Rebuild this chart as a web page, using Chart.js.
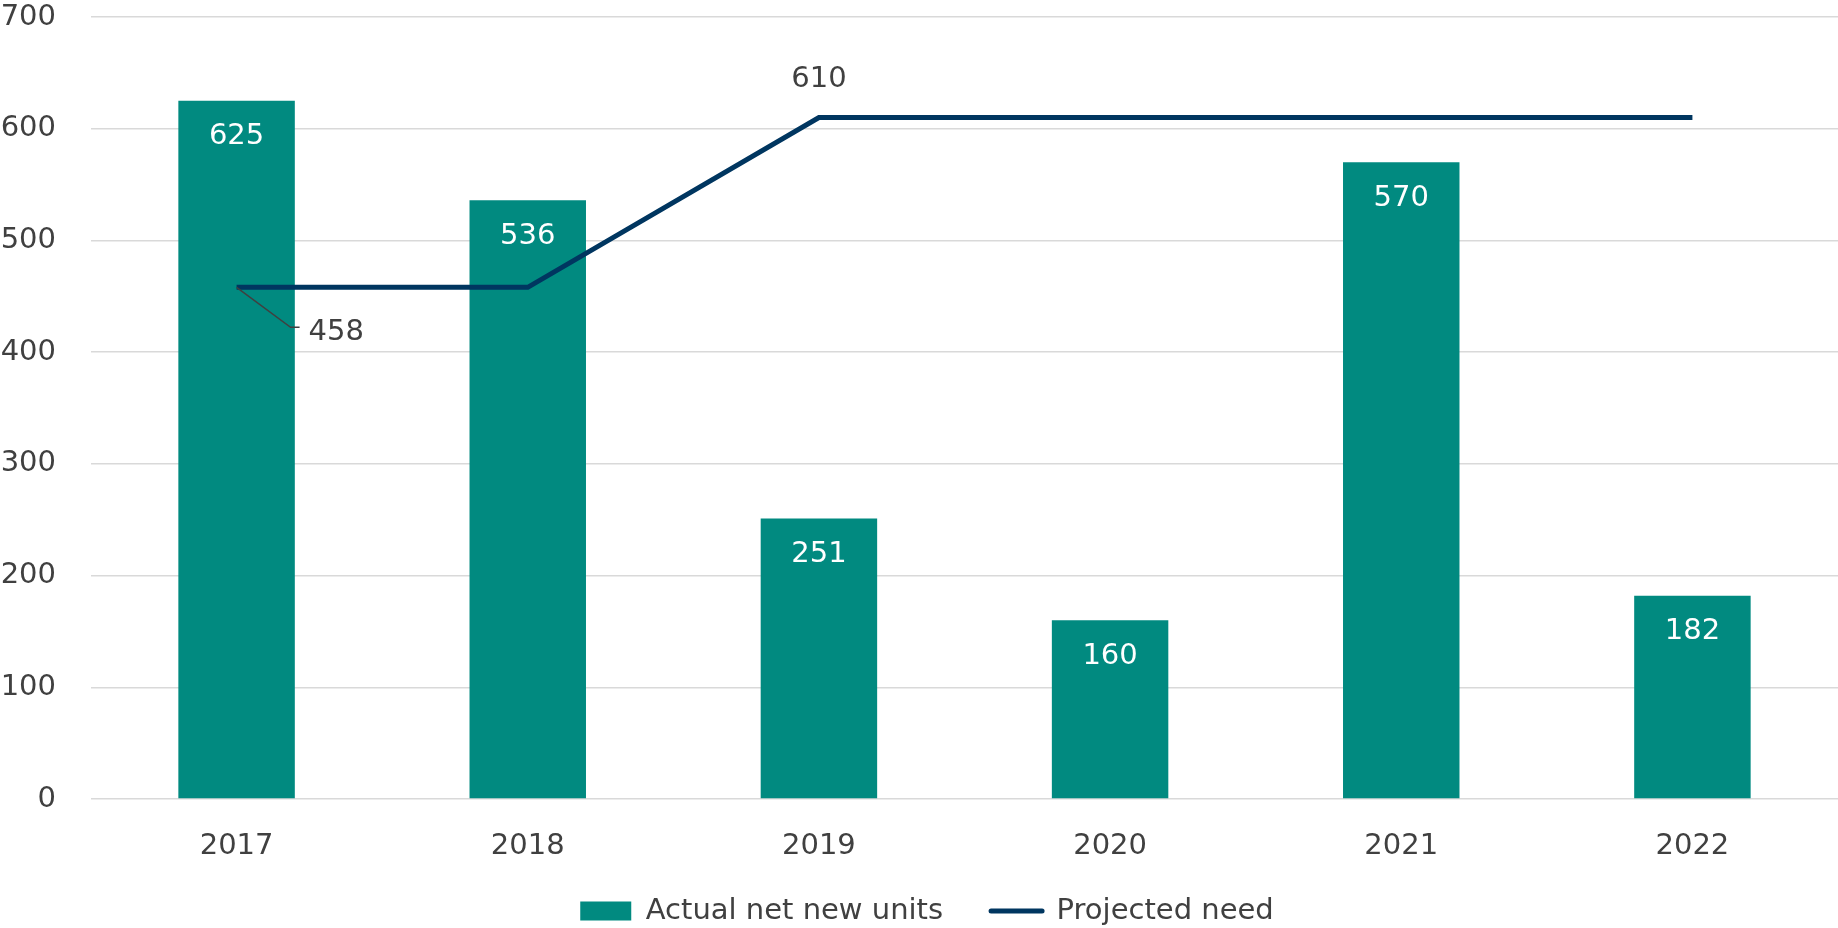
<!DOCTYPE html>
<html lang="en">
<head>
    <meta charset="UTF-8">
    <title>Actual net new units vs projected need</title>
    <style>
        html, body { margin: 0; padding: 0; background: #fff; }
        .chart-container { width: 1838px; height: 928px; }
    </style>
</head>
<body>
    <div class="chart-container">
        <canvas id="myChart"></canvas>
    </div>

    <script src="https://cdn.jsdelivr.net/npm/chart.js"></script>
    <script>
    const years = ['2017', '2018', '2019', '2020', '2021', '2022'];
    const actualUnits = [625, 536, 251, 160, 570, 182];
    const projectedNeed = [458, 458, 610, 610, 610, 610];
    const yTicks = [0, 100, 200, 300, 400, 500, 600, 700];

    const teal = '#018a80';
    const navy = '#003660';
    const textGrey = '#404040';
    const fontFamily = '"DejaVu Sans", "Open Sans", sans-serif';
    const fontSize = 29;
    const legendGap = 48;

    // value labels: white inside bars, two callouts on the line
    const labelPlugin = {
        id: 'valueLabels',
        afterInit(chart) {
            // keep the wide gap between legend items without a tall legend box
            const lg = chart.legend;
            const fit = lg.fit.bind(lg);
            lg.fit = function () { fit(); this.height = 63; };
        },
        afterLayout(chart) {
            // legend row sits 17px above the bottom edge, nudged a bit right
            const lg = chart.legend;
            lg.top = lg.bottom - 17 - fontSize / 2 - legendGap;
            lg.left += 8;
            lg.right += 8;
        },
        afterDatasetsDraw(chart) {
            const ctx = chart.ctx;
            ctx.save();
            ctx.font = fontSize + 'px ' + fontFamily;
            ctx.textBaseline = 'middle';

            const bars = chart.getDatasetMeta(0).data;
            ctx.fillStyle = '#ffffff';
            ctx.textAlign = 'center';
            bars.forEach((bar, i) => {
                ctx.fillText(actualUnits[i], bar.x, bar.y + 36);
            });

            const pts = chart.getDatasetMeta(1).data;
            ctx.fillStyle = textGrey;

            // 2019 label above the point
            ctx.fillText(projectedNeed[2], pts[2].x, pts[2].y - 38);

            // 2017 label with leader line
            const p = pts[0];
            ctx.strokeStyle = textGrey;
            ctx.lineWidth = 1.5;
            ctx.beginPath();
            ctx.moveTo(p.x, p.y);
            ctx.lineTo(p.x + 54, p.y + 40);
            ctx.lineTo(p.x + 63, p.y + 40);
            ctx.stroke();
            ctx.textAlign = 'left';
            ctx.fillText(projectedNeed[0], p.x + 72, p.y + 45);
            ctx.restore();
        }
    };

    Chart.defaults.font.family = fontFamily;
    Chart.defaults.color = textGrey;

    const ctx = document.getElementById('myChart').getContext('2d');
    window.myChart = new Chart(ctx, {
        type: 'bar',
        data: {
            labels: years,
            datasets: [{
                label: 'Actual net new units',
                data: actualUnits,
                backgroundColor: teal,
                categoryPercentage: 1.0,
                barPercentage: 0.4,
                order: 1
            }, {
                type: 'line',
                label: 'Projected need',
                data: projectedNeed,
                borderColor: navy,
                backgroundColor: navy,
                borderWidth: 5,
                pointRadius: 0,
                tension: 0,
                order: 0
            }]
        },
        options: {
            responsive: true,
            maintainAspectRatio: false,
            animation: false,
            layout: { padding: { top: 17, right: 0, left: 0, bottom: 0 } },
            plugins: {
                tooltip: { enabled: false },
                legend: {
                    position: 'bottom',
                    labels: {
                        usePointStyle: true,
                        pointStyleWidth: 51,
                        boxHeight: 19,
                        padding: legendGap,
                        font: { size: fontSize },
                        color: textGrey,
                        generateLabels: (chart) => chart.data.datasets.map((ds, i) => ({
                            text: ds.label,
                            fillStyle: i === 0 ? teal : navy,
                            strokeStyle: i === 0 ? teal : navy,
                            lineWidth: i === 0 ? 0 : 5,
                            lineCap: 'round',
                            pointStyle: i === 0 ? 'rect' : 'line',
                            fontColor: textGrey,
                            hidden: false,
                            datasetIndex: i
                        }))
                    }
                }
            },
            scales: {
                x: {
                    afterFit: (scale) => { scale.height = 66; },
                    grid: { display: false },
                    border: { display: false },
                    ticks: { font: { size: fontSize }, color: textGrey, padding: 22 }
                },
                y: {
                    min: 0,
                    max: 700,
                    afterBuildTicks: (scale) => { scale.ticks = yTicks.map(v => ({ value: v })); },
                    afterFit: (scale) => {
                        scale.width = 91;
                        scale.paddingTop = 0;
                        scale.paddingBottom = 0;
                    },
                    grid: { color: '#d9d9d9', lineWidth: 1.5, drawTicks: false },
                    border: { display: false },
                    ticks: { font: { size: fontSize }, color: textGrey, padding: 35 }
                }
            }
        },
        plugins: [labelPlugin]
    });
    </script>
</body>
</html>
